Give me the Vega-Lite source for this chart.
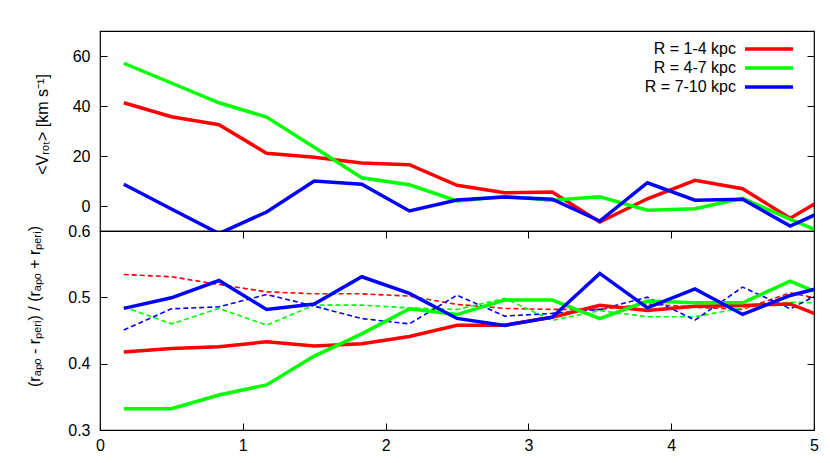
{
  "$schema": "https://vega.github.io/schema/vega-lite/v6.json",
  "padding": {"left": 25, "top": 30, "right": 10, "bottom": 5},
  "spacing": 0,
  "bounds": "flush",
  "config": {
    "font": "Liberation Sans",
    "view": {"stroke": "#000000", "strokeWidth": 1.2},
    "axis": {
      "grid": false, "domain": false, "tickColor": "#000000", "tickWidth": 1,
      "labelFont": "Liberation Sans", "labelFontSize": 16, "labelColor": "#000000",
      "titleFont": "Liberation Sans", "titleFontSize": 16, "titleFontWeight": "normal", "titleColor": "#000000"
    }
  },
  "datasets": {
    "vrot": [
      {"x": 0.1667, "R": "R = 1-4 kpc", "v": 41.3}, {"x": 0.5, "R": "R = 1-4 kpc", "v": 35.7}, {"x": 0.8333, "R": "R = 1-4 kpc", "v": 32.5}, {"x": 1.1667, "R": "R = 1-4 kpc", "v": 21.1}, {"x": 1.5, "R": "R = 1-4 kpc", "v": 19.5}, {"x": 1.8333, "R": "R = 1-4 kpc", "v": 17.2}, {"x": 2.1667, "R": "R = 1-4 kpc", "v": 16.5}, {"x": 2.5, "R": "R = 1-4 kpc", "v": 8.3}, {"x": 2.8333, "R": "R = 1-4 kpc", "v": 5.3}, {"x": 3.1667, "R": "R = 1-4 kpc", "v": 5.6}, {"x": 3.5, "R": "R = 1-4 kpc", "v": -6.4}, {"x": 3.8333, "R": "R = 1-4 kpc", "v": 2.9}, {"x": 4.1667, "R": "R = 1-4 kpc", "v": 10.3}, {"x": 4.5, "R": "R = 1-4 kpc", "v": 6.9}, {"x": 4.8333, "R": "R = 1-4 kpc", "v": -4.9}, {"x": 5.1667, "R": "R = 1-4 kpc", "v": 6.3},
      {"x": 0.1667, "R": "R = 4-7 kpc", "v": 57.1}, {"x": 0.5, "R": "R = 4-7 kpc", "v": 49.2}, {"x": 0.8333, "R": "R = 4-7 kpc", "v": 41.3}, {"x": 1.1667, "R": "R = 4-7 kpc", "v": 35.6}, {"x": 1.5, "R": "R = 4-7 kpc", "v": 23.5}, {"x": 1.8333, "R": "R = 4-7 kpc", "v": 11.3}, {"x": 2.1667, "R": "R = 4-7 kpc", "v": 8.5}, {"x": 2.5, "R": "R = 4-7 kpc", "v": 2.0}, {"x": 2.8333, "R": "R = 4-7 kpc", "v": 3.8}, {"x": 3.1667, "R": "R = 4-7 kpc", "v": 2.3}, {"x": 3.5, "R": "R = 4-7 kpc", "v": 3.7}, {"x": 3.8333, "R": "R = 4-7 kpc", "v": -1.7}, {"x": 4.1667, "R": "R = 4-7 kpc", "v": -1.1}, {"x": 4.5, "R": "R = 4-7 kpc", "v": 3.1}, {"x": 4.8333, "R": "R = 4-7 kpc", "v": -5.3}, {"x": 5.1667, "R": "R = 4-7 kpc", "v": -13.3},
      {"x": 0.1667, "R": "R = 7-10 kpc", "v": 8.7}, {"x": 0.5, "R": "R = 7-10 kpc", "v": -1.2}, {"x": 0.8333, "R": "R = 7-10 kpc", "v": -11.0}, {"x": 1.1667, "R": "R = 7-10 kpc", "v": -2.4}, {"x": 1.5, "R": "R = 7-10 kpc", "v": 10.0}, {"x": 1.8333, "R": "R = 7-10 kpc", "v": 8.7}, {"x": 2.1667, "R": "R = 7-10 kpc", "v": -2.0}, {"x": 2.5, "R": "R = 7-10 kpc", "v": 2.4}, {"x": 2.8333, "R": "R = 7-10 kpc", "v": 3.6}, {"x": 3.1667, "R": "R = 7-10 kpc", "v": 2.7}, {"x": 3.5, "R": "R = 7-10 kpc", "v": -6.0}, {"x": 3.8333, "R": "R = 7-10 kpc", "v": 9.3}, {"x": 4.1667, "R": "R = 7-10 kpc", "v": 2.3}, {"x": 4.5, "R": "R = 7-10 kpc", "v": 2.7}, {"x": 4.8333, "R": "R = 7-10 kpc", "v": -8.0}, {"x": 5.1667, "R": "R = 7-10 kpc", "v": 0.6}
    ],
    "ecc_solid": [
      {"x": 0.1667, "R": "R = 1-4 kpc", "e": 0.4175}, {"x": 0.5, "R": "R = 1-4 kpc", "e": 0.423}, {"x": 0.8333, "R": "R = 1-4 kpc", "e": 0.4255}, {"x": 1.1667, "R": "R = 1-4 kpc", "e": 0.433}, {"x": 1.5, "R": "R = 1-4 kpc", "e": 0.4265}, {"x": 1.8333, "R": "R = 1-4 kpc", "e": 0.43}, {"x": 2.1667, "R": "R = 1-4 kpc", "e": 0.441}, {"x": 2.5, "R": "R = 1-4 kpc", "e": 0.458}, {"x": 2.8333, "R": "R = 1-4 kpc", "e": 0.458}, {"x": 3.1667, "R": "R = 1-4 kpc", "e": 0.47}, {"x": 3.5, "R": "R = 1-4 kpc", "e": 0.488}, {"x": 3.8333, "R": "R = 1-4 kpc", "e": 0.48}, {"x": 4.1667, "R": "R = 1-4 kpc", "e": 0.4867}, {"x": 4.5, "R": "R = 1-4 kpc", "e": 0.4877}, {"x": 4.8333, "R": "R = 1-4 kpc", "e": 0.49}, {"x": 5.1667, "R": "R = 1-4 kpc", "e": 0.4616},
      {"x": 0.1667, "R": "R = 4-7 kpc", "e": 0.332}, {"x": 0.5, "R": "R = 4-7 kpc", "e": 0.332}, {"x": 0.8333, "R": "R = 4-7 kpc", "e": 0.3527}, {"x": 1.1667, "R": "R = 4-7 kpc", "e": 0.368}, {"x": 1.5, "R": "R = 4-7 kpc", "e": 0.4114}, {"x": 1.8333, "R": "R = 4-7 kpc", "e": 0.445}, {"x": 2.1667, "R": "R = 4-7 kpc", "e": 0.4827}, {"x": 2.5, "R": "R = 4-7 kpc", "e": 0.474}, {"x": 2.8333, "R": "R = 4-7 kpc", "e": 0.4958}, {"x": 3.1667, "R": "R = 4-7 kpc", "e": 0.4958}, {"x": 3.5, "R": "R = 4-7 kpc", "e": 0.468}, {"x": 3.8333, "R": "R = 4-7 kpc", "e": 0.4943}, {"x": 4.1667, "R": "R = 4-7 kpc", "e": 0.4917}, {"x": 4.5, "R": "R = 4-7 kpc", "e": 0.4917}, {"x": 4.8333, "R": "R = 4-7 kpc", "e": 0.5244}, {"x": 5.1667, "R": "R = 4-7 kpc", "e": 0.4942},
      {"x": 0.1667, "R": "R = 7-10 kpc", "e": 0.4833}, {"x": 0.5, "R": "R = 7-10 kpc", "e": 0.4993}, {"x": 0.8333, "R": "R = 7-10 kpc", "e": 0.5254}, {"x": 1.1667, "R": "R = 7-10 kpc", "e": 0.4818}, {"x": 1.5, "R": "R = 7-10 kpc", "e": 0.49}, {"x": 1.8333, "R": "R = 7-10 kpc", "e": 0.531}, {"x": 2.1667, "R": "R = 7-10 kpc", "e": 0.5059}, {"x": 2.5, "R": "R = 7-10 kpc", "e": 0.4682}, {"x": 2.8333, "R": "R = 7-10 kpc", "e": 0.4577}, {"x": 3.1667, "R": "R = 7-10 kpc", "e": 0.47}, {"x": 3.5, "R": "R = 7-10 kpc", "e": 0.536}, {"x": 3.8333, "R": "R = 7-10 kpc", "e": 0.4842}, {"x": 4.1667, "R": "R = 7-10 kpc", "e": 0.5128}, {"x": 4.5, "R": "R = 7-10 kpc", "e": 0.4742}, {"x": 4.8333, "R": "R = 7-10 kpc", "e": 0.5028}, {"x": 5.1667, "R": "R = 7-10 kpc", "e": 0.5212}
    ],
    "ecc_dashed": [
      {"x": 0.1667, "R": "R = 1-4 kpc", "e": 0.5344}, {"x": 0.5, "R": "R = 1-4 kpc", "e": 0.531}, {"x": 0.8333, "R": "R = 1-4 kpc", "e": 0.5194}, {"x": 1.1667, "R": "R = 1-4 kpc", "e": 0.5083}, {"x": 1.5, "R": "R = 1-4 kpc", "e": 0.5053}, {"x": 1.8333, "R": "R = 1-4 kpc", "e": 0.5053}, {"x": 2.1667, "R": "R = 1-4 kpc", "e": 0.5018}, {"x": 2.5, "R": "R = 1-4 kpc", "e": 0.4893}, {"x": 2.8333, "R": "R = 1-4 kpc", "e": 0.4833}, {"x": 3.1667, "R": "R = 1-4 kpc", "e": 0.4818}, {"x": 3.5, "R": "R = 1-4 kpc", "e": 0.4818}, {"x": 3.8333, "R": "R = 1-4 kpc", "e": 0.49}, {"x": 4.1667, "R": "R = 1-4 kpc", "e": 0.485}, {"x": 4.5, "R": "R = 1-4 kpc", "e": 0.4818}, {"x": 4.8333, "R": "R = 1-4 kpc", "e": 0.5068}, {"x": 5.1667, "R": "R = 1-4 kpc", "e": 0.492},
      {"x": 0.1667, "R": "R = 4-7 kpc", "e": 0.4857}, {"x": 0.5, "R": "R = 4-7 kpc", "e": 0.46}, {"x": 0.8333, "R": "R = 4-7 kpc", "e": 0.4833}, {"x": 1.1667, "R": "R = 4-7 kpc", "e": 0.458}, {"x": 1.5, "R": "R = 4-7 kpc", "e": 0.4883}, {"x": 1.8333, "R": "R = 4-7 kpc", "e": 0.4883}, {"x": 2.1667, "R": "R = 4-7 kpc", "e": 0.484}, {"x": 2.5, "R": "R = 4-7 kpc", "e": 0.4818}, {"x": 2.8333, "R": "R = 4-7 kpc", "e": 0.4983}, {"x": 3.1667, "R": "R = 4-7 kpc", "e": 0.4652}, {"x": 3.5, "R": "R = 4-7 kpc", "e": 0.48}, {"x": 3.8333, "R": "R = 4-7 kpc", "e": 0.4707}, {"x": 4.1667, "R": "R = 4-7 kpc", "e": 0.4707}, {"x": 4.5, "R": "R = 4-7 kpc", "e": 0.4842}, {"x": 4.8333, "R": "R = 4-7 kpc", "e": 0.4928}, {"x": 5.1667, "R": "R = 4-7 kpc", "e": 0.4906},
      {"x": 0.1667, "R": "R = 7-10 kpc", "e": 0.4506}, {"x": 0.5, "R": "R = 7-10 kpc", "e": 0.4827}, {"x": 0.8333, "R": "R = 7-10 kpc", "e": 0.4857}, {"x": 1.1667, "R": "R = 7-10 kpc", "e": 0.5043}, {"x": 1.5, "R": "R = 7-10 kpc", "e": 0.4868}, {"x": 1.8333, "R": "R = 7-10 kpc", "e": 0.468}, {"x": 2.1667, "R": "R = 7-10 kpc", "e": 0.46}, {"x": 2.5, "R": "R = 7-10 kpc", "e": 0.5033}, {"x": 2.8333, "R": "R = 7-10 kpc", "e": 0.4717}, {"x": 3.1667, "R": "R = 7-10 kpc", "e": 0.4758}, {"x": 3.5, "R": "R = 7-10 kpc", "e": 0.4818}, {"x": 3.8333, "R": "R = 7-10 kpc", "e": 0.5003}, {"x": 4.1667, "R": "R = 7-10 kpc", "e": 0.4657}, {"x": 4.5, "R": "R = 7-10 kpc", "e": 0.5154}, {"x": 4.8333, "R": "R = 7-10 kpc", "e": 0.4828}, {"x": 5.1667, "R": "R = 7-10 kpc", "e": 0.519}
    ]
  },
  "vconcat": [
    {
      "width": 714, "height": 200,
      "data": {"name": "vrot"},
      "layer": [
        {
          "mark": {"type": "line", "strokeWidth": 3.5, "clip": true},
          "encoding": {
            "x": {"field": "x", "type": "quantitative", "scale": {"domain": [0, 5], "nice": false},
                  "axis": {"orient": "bottom", "values": [1, 2, 3, 4], "labels": false, "tickSize": -7, "title": null}},
            "y": {"field": "v", "type": "quantitative", "scale": {"domain": [-10, 70], "nice": false},
                  "axis": {"orient": "left", "values": [0, 20, 40, 60], "tickSize": -7, "labelPadding": 17,
                           "title": "<Vᵣₒₜ> [km s⁻¹]", "titleX": -50, "titleY": 93}},
            "color": {"field": "R", "type": "nominal",
                      "scale": {"domain": ["R = 1-4 kpc", "R = 4-7 kpc", "R = 7-10 kpc"], "range": ["#ff0000", "#00ff00", "#0000ff"]},
                      "legend": {"orient": "none", "legendX": 659, "legendY": 8, "title": null,
                                 "symbolType": "M-3,0H3", "symbolSize": 256, "symbolStrokeWidth": 3.5,
                                 "labelFont": "Liberation Sans", "labelFontSize": 16, "labelColor": "#000000",
                                 "labelAlign": "right", "labelOffset": -43, "rowPadding": 1, "padding": 0}}
          }
        },
        {
          "mark": {"type": "line", "opacity": 0, "clip": true},
          "encoding": {
            "x": {"field": "x", "type": "quantitative", "axis": null},
            "y": {"field": "v", "type": "quantitative",
                  "axis": {"orient": "right", "values": [0, 20, 40, 60], "labels": false, "tickSize": -7, "title": null}}
          }
        }
      ],
      "resolve": {"axis": {"y": "independent"}}
    },
    {
      "width": 714, "height": 199,
      "layer": [
        {
          "data": {"name": "ecc_dashed"},
          "mark": {"type": "line", "strokeWidth": 1.6, "strokeDash": [5, 3], "clip": true},
          "encoding": {
            "x": {"field": "x", "type": "quantitative", "scale": {"domain": [0, 5], "nice": false},
                  "axis": {"orient": "bottom", "values": [0, 1, 2, 3, 4, 5], "tickSize": -7, "labelPadding": 14, "labelFlush": false, "title": null}},
            "y": {"field": "e", "type": "quantitative", "scale": {"domain": [0.3, 0.6], "nice": false},
                  "axis": {"orient": "left", "values": [0.3, 0.4, 0.5, 0.6], "format": ".1f", "tickSize": -7, "labelPadding": 17,
                           "title": "(rₐₚₒ - rₚₑᵣᵢ) / (rₐₚₒ + rₚₑᵣᵢ)", "titleX": -58, "titleY": 75}},
            "color": {"field": "R", "type": "nominal",
                      "scale": {"domain": ["R = 1-4 kpc", "R = 4-7 kpc", "R = 7-10 kpc"], "range": ["#ff0000", "#00ff00", "#0000ff"]},
                      "legend": null}
          }
        },
        {
          "data": {"name": "ecc_solid"},
          "mark": {"type": "line", "strokeWidth": 3.5, "clip": true},
          "encoding": {
            "x": {"field": "x", "type": "quantitative",
                  "axis": {"orient": "top", "values": [1, 2, 3, 4], "labels": false, "tickSize": -7, "title": null}},
            "y": {"field": "e", "type": "quantitative",
                  "axis": {"orient": "right", "values": [0.4, 0.5], "labels": false, "tickSize": -7, "title": null}},
            "color": {"field": "R", "type": "nominal", "legend": null}
          }
        }
      ],
      "resolve": {"axis": {"x": "independent", "y": "independent"}}
    }
  ],
  "resolve": {"scale": {"color": "independent"}}
}
